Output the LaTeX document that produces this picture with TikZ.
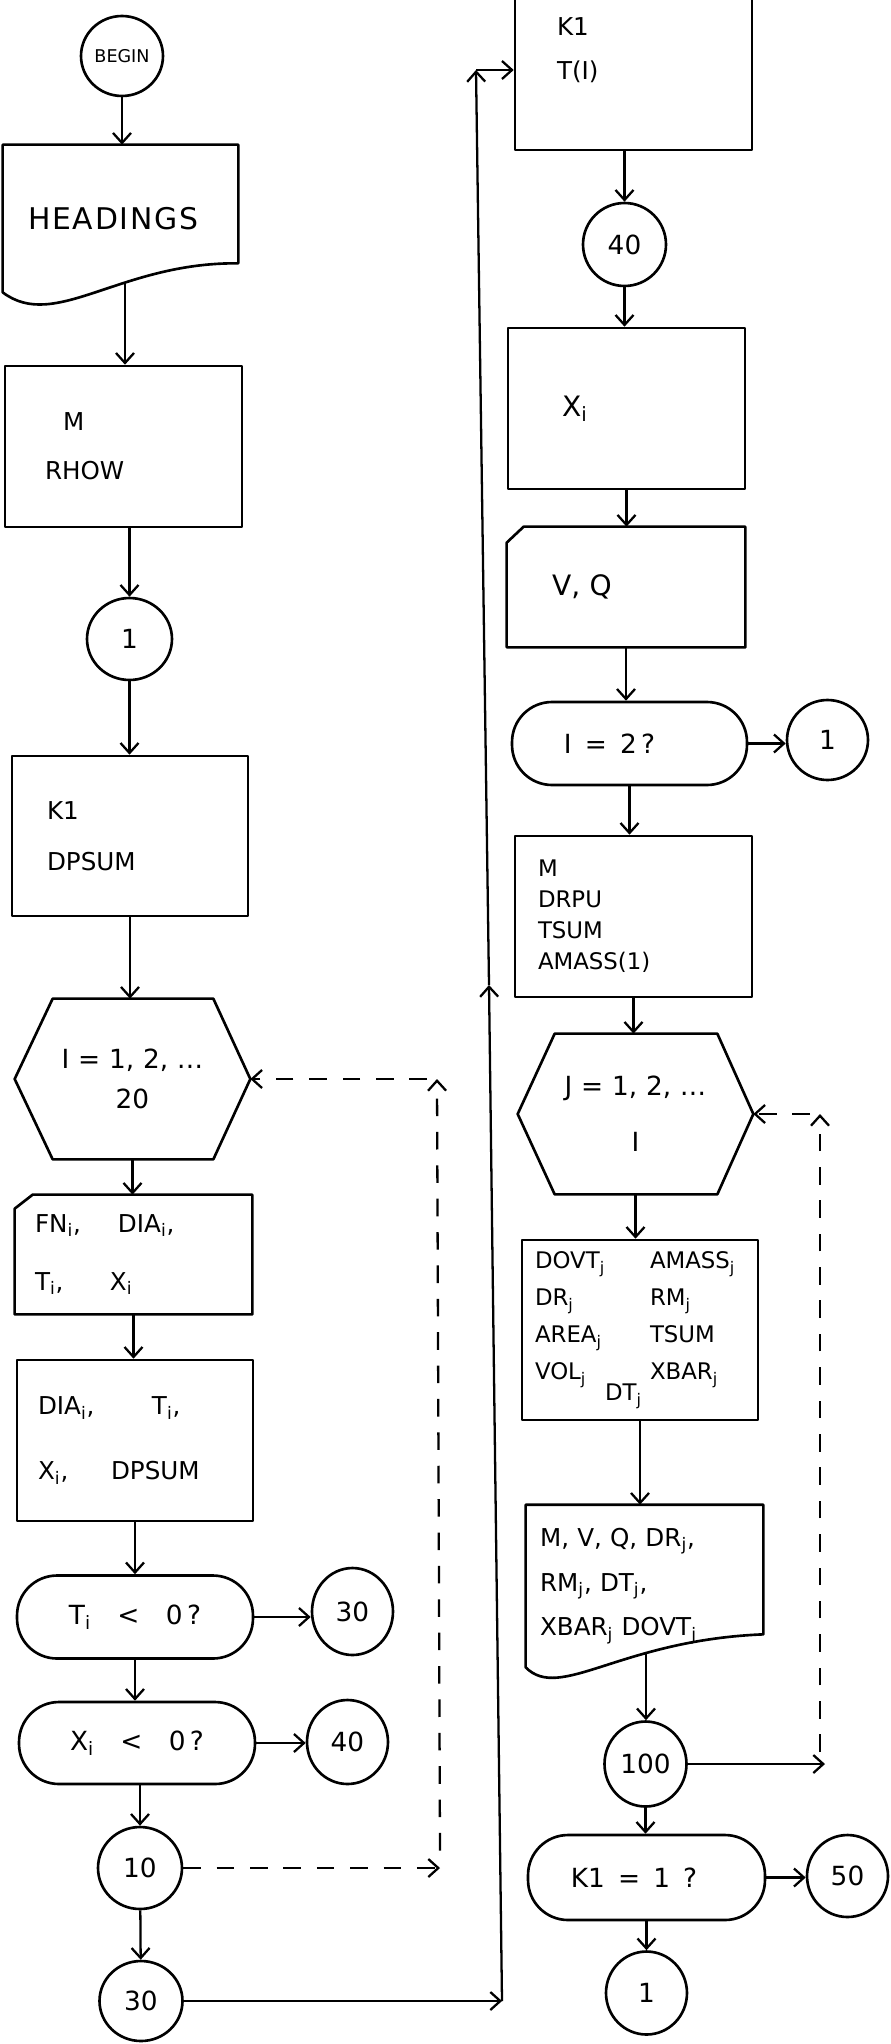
\documentclass[tikz,border=0pt]{standalone}
\usepackage{fontspec}
\setmainfont{DejaVu Sans}
\usepackage{tikz}
\usetikzlibrary{arrows.meta,shapes.geometric}

\newcommand{\ix}[1]{\textsubscript{#1}}
\newcommand{\lcol}[2]{\makebox[#1][l]{#2}}

\begin{document}
\begin{tikzpicture}[x=0.02cm,y=-0.02cm,
  penline/.style={line width=1.5pt,line join=round},
  plainbox/.style={rectangle,inner ysep=0pt,align=left},
  procbox/.style={plainbox,draw,penline},
  decide/.style={rectangle,draw,penline,rounded corners=0.8cm,inner sep=0pt,minimum width=4.72cm,minimum height=1.66cm,font=\fontsize{15}{18}\selectfont},
  conn/.style={ellipse,draw,penline,inner sep=0pt,font=\fontsize{15}{18}\selectfont},
  arr/.style={-{Straight Barb[length=2mm,width=3.6mm]},line width=1.3pt},
  loopback/.style={arr,dash pattern=on 10pt off 9pt}]
\useasboundingbox (0,0) rectangle (890,2044);
\clip (0,0) rectangle (890,2044);

\node[conn,minimum width=1.64cm,minimum height=1.6cm,font=\fontsize{10}{12}\selectfont] (start) at (122,56) {BEGIN};
\node[plainbox,minimum width=4.7cm,minimum height=2.94cm,inner xsep=0.5cm,text width=3.7cm,font=\fontsize{17}{20}\selectfont\addfontfeature{LetterSpace=6}] (headings) at (120.5,218.5) {HEADINGS};
\draw[penline] (headings.south west) .. controls (55,332) and (120,262) .. ([yshift=0.58cm]headings.south east) -- (headings.north east) -- (headings.north west) -- cycle;
\coordinate (headout) at (125,283);
\node[procbox,minimum width=4.74cm,minimum height=3.22cm,inner xsep=0.8cm,text width=3.14cm,font=\fontsize{14}{28}\selectfont] (readM) at (123.5,446.5) {\hspace*{0.36cm}M\\RHOW};
\node[conn,minimum width=1.7cm,minimum height=1.64cm] (conn1) at (129.5,639) {1};
\node[procbox,minimum width=4.72cm,minimum height=3.2cm,inner xsep=0.7cm,text width=3.32cm,font=\fontsize{14}{29}\selectfont] (initK) at (130,836) {K1\\DPSUM};
\node[plainbox,minimum width=4.7cm,minimum height=3.2cm,inner xsep=0pt,text width=4.7cm,align=center,font=\fontsize{15}{23}\selectfont] (loopI) at (132.5,1079) {I = 1, 2, \ldots\\20};
\draw[penline] (loopI.west) -- ([xshift=0.76cm]loopI.north west) -- ([xshift=-0.74cm]loopI.north east) -- (loopI.east) -- ([xshift=-0.74cm]loopI.south east) -- ([xshift=0.76cm]loopI.south west) -- cycle;
\node[plainbox,minimum width=4.74cm,minimum height=2.38cm,inner xsep=0.4cm,text width=3.94cm,font=\fontsize{14}{33}\selectfont] (readFN) at (133.5,1254.5) {\lcol{1.66cm}{FN\ix{i},}DIA\ix{i},\\\lcol{1.5cm}{T\ix{i},}X\ix{i}};
\draw[penline] ([xshift=0.36cm]readFN.north west) -- (readFN.north east) -- (readFN.south east) -- (readFN.south west) -- ([yshift=-0.28cm]readFN.north west) -- cycle;
\node[procbox,minimum width=4.72cm,minimum height=3.22cm,inner xsep=0.42cm,text width=3.88cm,font=\fontsize{14}{37}\selectfont] (calcDIA) at (135,1440.5) {\lcol{2.28cm}{DIA\ix{i},}T\ix{i},\\\lcol{1.46cm}{X\ix{i},}DPSUM};
\node[decide] (ifT) at (135,1617) {T\ix{i}\quad<\quad0\,?};
\node[conn,minimum width=1.62cm,minimum height=1.74cm] (go30) at (352.5,1611.5) {30};
\node[decide,minimum height=1.64cm] (ifX) at (137,1743) {X\ix{i}\quad<\quad0\,?};
\node[conn,minimum width=1.62cm,minimum height=1.68cm] (go40) at (347.5,1742) {40};
\node[conn,minimum width=1.68cm,minimum height=1.64cm] (lab10) at (140,1868) {10};
\node[conn,minimum width=1.66cm,minimum height=1.6cm] (lab30) at (141,2001) {30};

\draw[arr] (start) -- (start |- headings.north);
\draw[arr] (headout) -- (headout |- readM.north);
\draw[arr] (conn1 |- readM.south) -- (conn1);
\draw[arr] (conn1) -- (conn1 |- initK.north);
\draw[arr] (initK) -- (initK |- loopI.north);
\draw[arr] (loopI) -- (loopI |- readFN.north);
\draw[arr] (readFN) -- (readFN |- calcDIA.north);
\draw[arr] (calcDIA) -- (calcDIA |- ifT.north);
\draw[arr] (ifT) -- (ifT -| go30.west);
\draw[arr] (ifT) -- (ifT |- ifX.north);
\draw[arr] (ifX) -- (ifX -| go40.west);
\draw[arr] (lab10 |- ifX.south) -- (lab10);
\draw[arr] (lab10) -- (lab30);

\coordinate (backIa) at (440,1868);
\coordinate (backIb) at (437,1079);
\draw[loopback] (lab10) -- (backIa);
\draw[loopback] ([yshift=0.35cm]backIa) -- (backIb);
\draw[loopback] ([xshift=-0.2cm]backIb) -- (loopI.east);

\coordinate (jumpA) at (502,2001);
\coordinate (jumpM) at (489,985);
\coordinate (jumpB) at (476,70);
\draw[arr] (lab30) -- (jumpA);
\draw[arr] (jumpA) -- (jumpM);
\draw[arr] (jumpM) -- (jumpB);

\node[procbox,minimum width=4.74cm,minimum height=4.0cm,inner xsep=0.84cm,text width=3.06cm,font=\fontsize{14}{25}\selectfont] (initT) at (633.5,50) {K1\\T(I)};
\draw[arr] (jumpB) -- (jumpB -| initT.west);
\node[conn,minimum width=1.66cm,minimum height=1.66cm] (conn40) at (624.5,244.5) {40};
\node[procbox,minimum width=4.74cm,minimum height=3.22cm,inner xsep=1.08cm,text width=2.58cm,font=\fontsize{16}{20}\selectfont] (setX) at (626.5,408.5) {X\ix{i}};
\node[plainbox,minimum width=4.76cm,minimum height=2.4cm,inner xsep=0.9cm,text width=2.96cm,font=\fontsize{16}{20}\selectfont] (readVQ) at (626,587) {V, Q};
\draw[penline] ([xshift=0.34cm]readVQ.north west) -- (readVQ.north east) -- (readVQ.south east) -- (readVQ.south west) -- ([yshift=-0.32cm]readVQ.north west) -- cycle;
\node[decide,minimum width=4.7cm] (ifI) at (629.5,743.5) {I\enspace=\enspace2\,?\hspace*{0.8cm}};
\node[conn,minimum width=1.62cm,minimum height=1.6cm] (back1) at (827.5,740) {1};
\node[procbox,minimum width=4.74cm,minimum height=3.22cm,inner xsep=0.46cm,text width=3.82cm,font=\fontsize{13}{17.6}\selectfont] (initM) at (633.5,916.5) {M\\DRPU\\TSUM\\AMASS(1)};
\node[plainbox,minimum width=4.7cm,minimum height=3.2cm,inner xsep=0pt,text width=4.7cm,align=center,font=\fontsize{15}{32}\selectfont] (loopJ) at (635.5,1114) {J = 1, 2, \ldots\\I};
\draw[penline] (loopJ.west) -- ([xshift=0.74cm]loopJ.north west) -- ([xshift=-0.72cm]loopJ.north east) -- (loopJ.east) -- ([xshift=-0.72cm]loopJ.south east) -- ([xshift=0.74cm]loopJ.south west) -- cycle;
\node[procbox,minimum width=4.72cm,minimum height=3.6cm,inner xsep=0.26cm,text width=4.2cm,font=\fontsize{13}{21}\selectfont] (calcJ) at (640,1330) {\lcol{2.3cm}{DOVT\ix{j}}AMASS\ix{j}\\\lcol{2.3cm}{DR\ix{j}}RM\ix{j}\\\lcol{2.3cm}{AREA\ix{j}}TSUM\\\lcol{2.3cm}{VOL\ix{j}}XBAR\ix{j}\\[-9pt]\hspace*{1.4cm}DT\ix{j}};
\node[plainbox,minimum width=4.74cm,minimum height=3.24cm,inner xsep=0.28cm,text width=4.18cm,font=\fontsize{14}{25.5}\selectfont] (report) at (644.5,1586) {M, V, Q, DR\ix{j},\\RM\ix{j}, DT\ix{j},\\XBAR\ix{j} DOVT\ix{j}};
\draw[penline] (report.south west) .. controls (560,1702) and (620,1640) .. ([yshift=0.66cm]report.south east) -- (report.north east) -- (report.north west) -- cycle;
\coordinate (reportout) at (646,1653);
\node[conn,minimum width=1.64cm,minimum height=1.7cm] (lab100) at (645.5,1764) {100};
\node[decide,minimum width=4.74cm,minimum height=1.7cm] (ifK) at (646.5,1877.5) {K1\enspace=\enspace1\enspace?\hspace*{0.5cm}};
\node[conn,minimum width=1.62cm,minimum height=1.64cm] (go50) at (847.5,1876) {50};
\node[conn,minimum width=1.62cm,minimum height=1.66cm] (back1b) at (646.5,1993) {1};

\draw[arr] (conn40 |- initT.south) -- (conn40);
\draw[arr] (conn40) -- (conn40 |- setX.north);
\draw[arr] (setX) -- (setX |- readVQ.north);
\draw[arr] (readVQ) -- (readVQ |- ifI.north);
\draw[arr] (ifI) -- (ifI -| back1.west);
\draw[arr] (ifI) -- (ifI |- initM.north);
\draw[arr] (initM) -- (initM |- loopJ.north);
\draw[arr] (loopJ) -- (loopJ |- calcJ.north);
\draw[arr] (calcJ) -- (calcJ |- report.north);
\draw[arr] (reportout) -- (reportout |- lab100.north);
\draw[arr] (lab100) -- (lab100 |- ifK.north);
\draw[arr] (ifK) -- (ifK -| go50.west);
\draw[arr] (ifK) -- (ifK |- back1b.north);

\coordinate (backJa) at (825,1764);
\coordinate (backJc) at (820,1752);
\coordinate (backJb) at (820,1114);
\draw[arr] (lab100) -- (backJa);
\draw[loopback] (backJc) -- (backJb);
\draw[loopback] ([xshift=-0.2cm]backJb) -- (loopJ.east);
\end{tikzpicture}
\end{document}
